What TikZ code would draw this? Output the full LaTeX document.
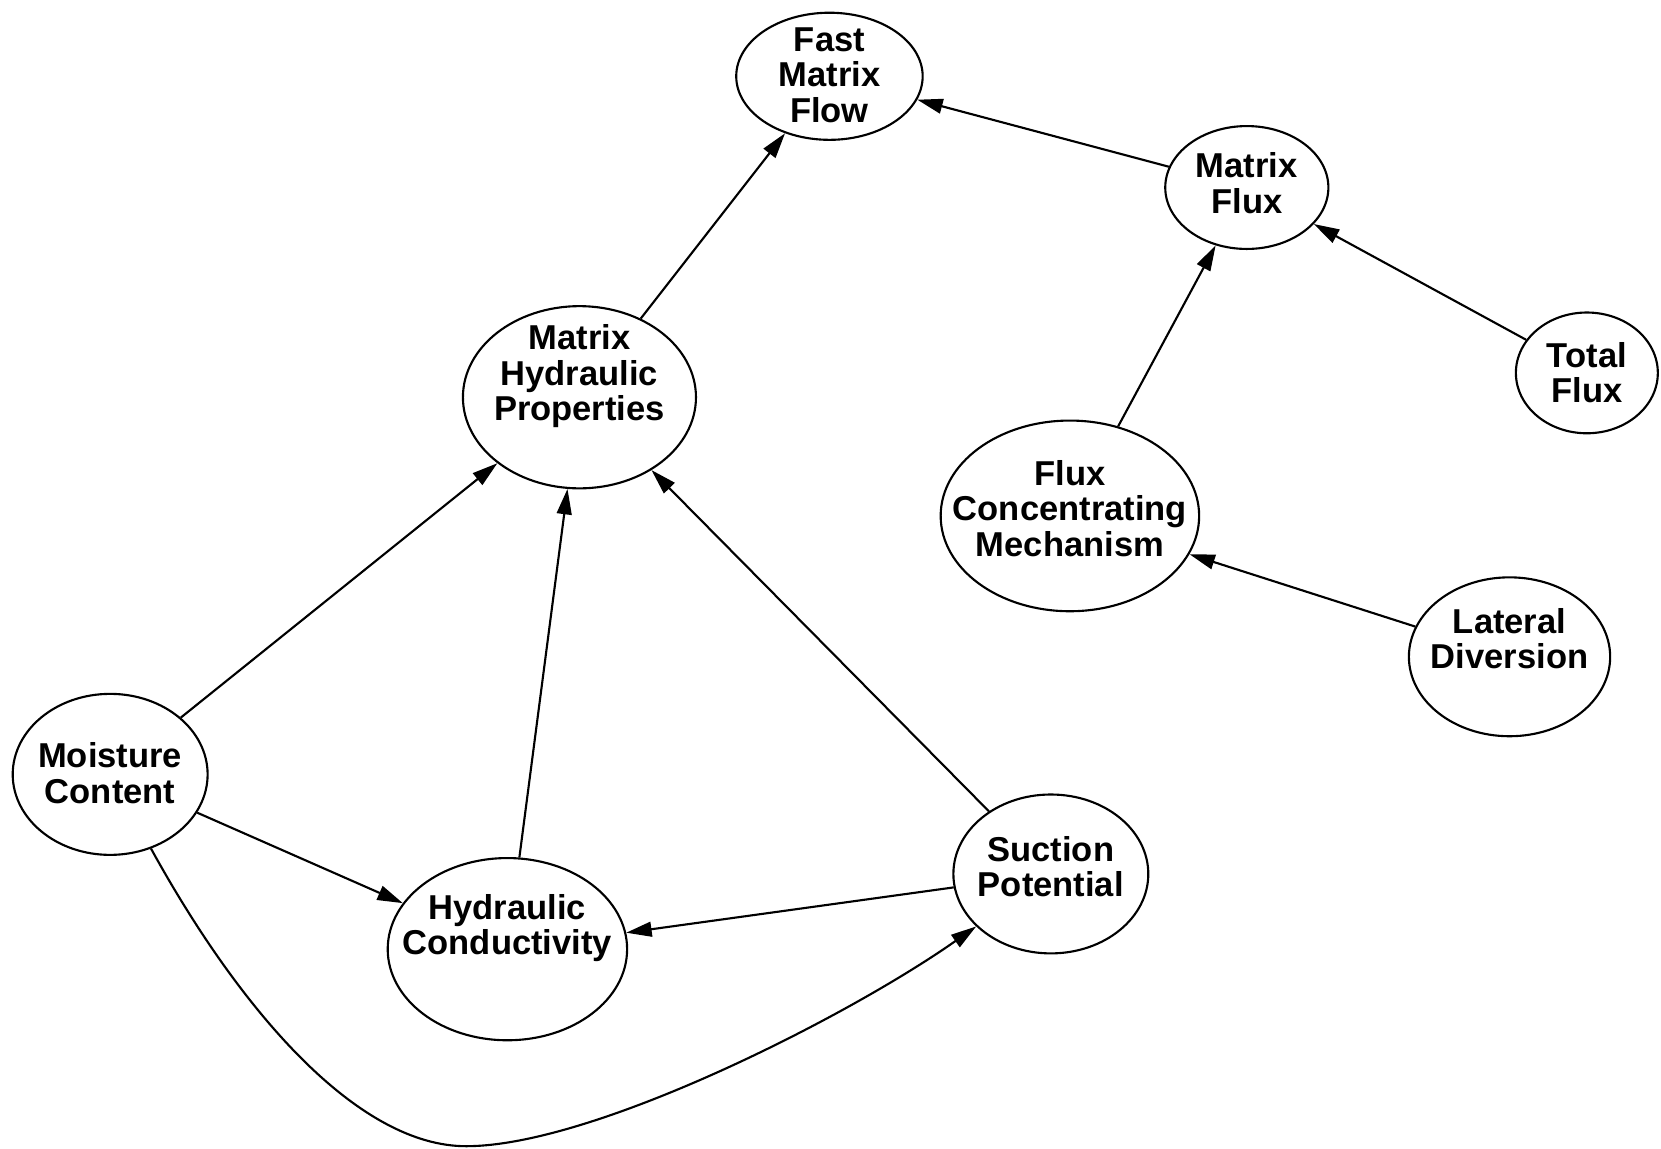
\documentclass[tikz,border=0pt]{standalone}
\usepackage{fontspec}
\setmainfont{Liberation Sans}
\usetikzlibrary{arrows.meta,shapes.geometric}

\begin{document}
\begin{tikzpicture}[x=0.5pt,y=-0.5pt,
  bubble/.style={draw, ellipse, line width=1pt, inner sep=0pt},
  caption/.style={align=center, inner sep=0pt,
    font=\fontsize{16.3}{16.75}\selectfont\bfseries},
  link/.style={line width=1pt, -{Triangle[length=12pt,width=7pt]}}]

\useasboundingbox (0,0) rectangle (1568,1084);

% ellipses
\node[bubble, minimum width=88pt,  minimum height=60pt] (fmf) at (783,72)   {};
\node[bubble, minimum width=77pt,  minimum height=58pt] (mf)  at (1177,177) {};
\node[bubble, minimum width=67pt,  minimum height=57pt] (tf)  at (1498,352) {};
\node[bubble, minimum width=122pt, minimum height=90pt] (fcm) at (1010,487) {};
\node[bubble, minimum width=95pt,  minimum height=75pt] (ld)  at (1425,620) {};
\node[bubble, minimum width=110pt, minimum height=86pt] (mhp) at (547,375)  {};
\node[bubble, minimum width=92pt,  minimum height=76pt] (mc)  at (104,731)  {};
\node[bubble, minimum width=113pt, minimum height=86pt] (hc)  at (479,896)  {};
\node[bubble, minimum width=92pt,  minimum height=75pt] (sp)  at (992,825)  {};

% labels
\node[caption] (fmf-t) at (783,71)   {Fast\\Matrix\\Flow};
\node[caption] (mf-t)  at (1177,173) {Matrix\\Flux};
\node[caption] (tf-t)  at (1498,352) {Total\\Flux};
\node[caption] (fcm-t) at (1010,480) {Flux\\Concentrating\\Mechanism};
\node[caption] (ld-t)  at (1425,603) {Lateral\\Diversion};
\node[caption] (mhp-t) at (547,355)  {Matrix\\Hydraulic\\Properties};
\node[caption] (mc-t)  at (104,730)  {Moisture\\Content};
\node[caption] (hc-t)  at (479,876)  {Hydraulic\\Conductivity};
\node[caption] (sp-t)  at (992,818)  {Suction\\Potential};

% influences
\draw[link] (mf)  -- (fmf);
\draw[link] (mhp) -- (fmf);
\draw[link] (tf)  -- (mf);
\draw[link] (fcm) -- (mf);
\draw[link] (ld)  -- (fcm);
\draw[link] (mc)  -- (mhp);
\draw[link] (hc)  -- (mhp);
\draw[link] (sp)  -- (mhp);
\draw[link] (mc)  -- (hc);
\draw[link] (sp)  -- (hc);

\coordinate (dip) at (440,1082);
\draw[link] (mc) .. controls (230,960) and (340,1082) .. (dip)
                 .. controls (560,1082) and (800,960) .. (sp);
\end{tikzpicture}
\end{document}
